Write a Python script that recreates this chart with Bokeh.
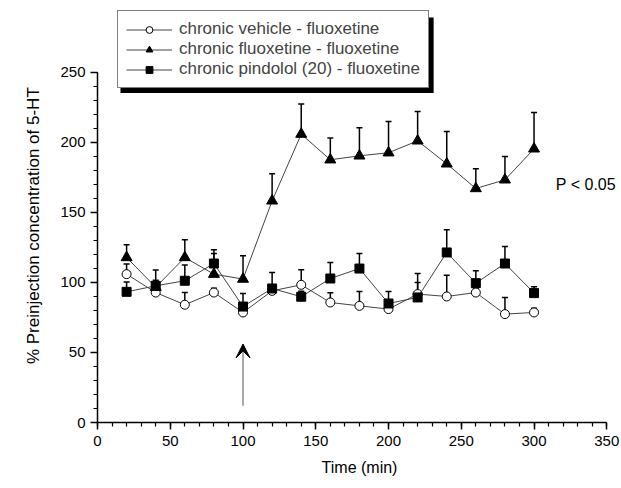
from bokeh.plotting import figure
from bokeh.models import (ColumnDataSource, Whisker, TeeHead, Legend, LegendItem,
                          SingleIntervalTicker, Arrow, VeeHead, Range1d, Label)
from bokeh.embed import file_html
from bokeh.resources import INLINE

time = [20, 40, 60, 80, 100, 120, 140, 160, 180, 200, 220, 240, 260, 280, 300]

vehicle = [105.8, 92.7, 84.0, 92.7, 78.5, 93.9, 98.2, 85.6, 83.2, 80.9, 91.6, 89.9, 92.7, 77.3, 78.5]
vehicle_err = [7.2, 3.0, 8.7, 3.0, 3.0, 3.0, 10.7, 6.9, 10.2, 3.0, 8.3, 15.2, 3.0, 11.9, 3.0]

fluox = [117.7, 96.5, 117.7, 105.8, 102.3, 158.1, 205.7, 187.4, 190.2, 192.4, 200.9, 184.5, 166.9, 173.1, 195.2]
fluox_err = [9.0, 5.0, 12.6, 14.7, 16.6, 19.3, 21.4, 15.6, 20.0, 22.3, 20.9, 23.1, 14.1, 16.6, 25.9]

pindo = [93.2, 97.5, 101.1, 113.4, 82.7, 95.6, 89.7, 102.7, 109.8, 84.9, 89.2, 121.3, 99.4, 113.4, 92.3]
pindo_err = [7.0, 11.2, 11.2, 9.8, 9.3, 11.4, 4.0, 11.4, 10.7, 8.5, 17.1, 16.1, 8.8, 12.1, 4.5]

legend_labels = ["chronic vehicle - fluoxetine",
                 "chronic fluoxetine - fluoxetine",
                 "chronic pindolol (20) - fluoxetine"]

FONT = "Liberation Sans"

# frame: left 97, bottom 422 (axis 0..350 x, 0..250 y); ranges extended so legend/labels are not clipped
p = figure(width=621, height=488, output_backend="svg", toolbar_location=None,
           x_range=Range1d(0, 360.1), y_range=Range1d(0, 301.0),
           min_border_left=97, min_border_right=0, min_border_top=0, min_border_bottom=66)
p.outline_line_color = None
p.grid.visible = False
p.background_fill_color = "white"
p.border_fill_color = "white"

# drop shadow behind the legend box (peeks out right / below)
p.quad(left=[15.8], right=[231.0], top=[288.9], bottom=[235.0],
       fill_color="black", line_color=None)

series = [
    (vehicle, vehicle_err, "circle", 9, "white"),
    (fluox, fluox_err, "triangle", 11, "black"),
    (pindo, pindo_err, "square", 9, "black"),
]

items = []
for (vals, errs, marker, size, fill), lab in zip(series, legend_labels):
    src = ColumnDataSource(dict(x=time, y=vals, up=[v + e for v, e in zip(vals, errs)]))
    w = Whisker(base="x", upper="up", lower="y", source=src, dimension="height",
                line_color="black", line_width=1.5,
                upper_head=TeeHead(size=6, line_color="black", line_width=1.5),
                lower_head=None, level="underlay")
    p.add_layout(w)
    ln = p.line("x", "y", source=src, line_color="#444444", line_width=1)
    sc = p.scatter("x", "y", source=src, marker=marker, size=size,
                   fill_color=fill, line_color="black", line_width=1)
    items.append(LegendItem(label=lab, renderers=[ln, sc]))

legend = Legend(items=items, location=(20, 334), orientation="vertical",
                label_text_font=FONT, label_text_font_size="17px",
                glyph_width=46, glyph_height=17, label_height=17, label_standoff=7,
                spacing=-2, padding=8, margin=0, border_line_color="black",
                border_line_width=1.5, background_fill_color="white",
                background_fill_alpha=1)
p.add_layout(legend, "center")

for ax in (p.xaxis, p.yaxis):
    ax.axis_line_width = 1.5
    ax.major_tick_line_width = 1.5
    ax.minor_tick_line_width = 1.2
    ax.major_tick_in = 0
    ax.major_tick_out = 7
    ax.minor_tick_in = 0
    ax.minor_tick_out = 4
    ax.major_label_text_font = FONT
    ax.major_label_text_font_size = "15px"
    ax.major_label_text_color = "black"
    ax.axis_label_text_font = FONT
    ax.axis_label_text_font_style = "normal"
    ax.axis_label_text_color = "black"

p.xaxis.bounds = (0, 350)
p.yaxis.bounds = (0, 250)
p.xaxis.ticker = SingleIntervalTicker(interval=50, num_minor_ticks=5)
p.yaxis.ticker = SingleIntervalTicker(interval=50, num_minor_ticks=5)
p.xaxis.axis_label = "Time (min)"
p.yaxis.axis_label = "% Preinjection concentration of 5-HT" + "\u00a0" * 6
p.xaxis.axis_label_text_font_size = "16px"
p.yaxis.axis_label_text_font_size = "17px"
p.xaxis.major_label_standoff = 6
p.yaxis.major_label_standoff = 5
p.xaxis.axis_label_standoff = 10
p.yaxis.axis_label_standoff = 14

arrow = Arrow(x_start=100, y_start=12, x_end=100, y_end=56,
              line_color="#555555", line_width=1,
              end=VeeHead(size=14, fill_color="black", line_color="black", line_width=1))
p.add_layout(arrow)

p.add_layout(Label(x=315, y=169.5, text="P < 0.05", text_font=FONT,
                   text_font_size="16px", text_baseline="middle", text_color="black"))

open("out.html", "w").write(file_html(p, INLINE))
